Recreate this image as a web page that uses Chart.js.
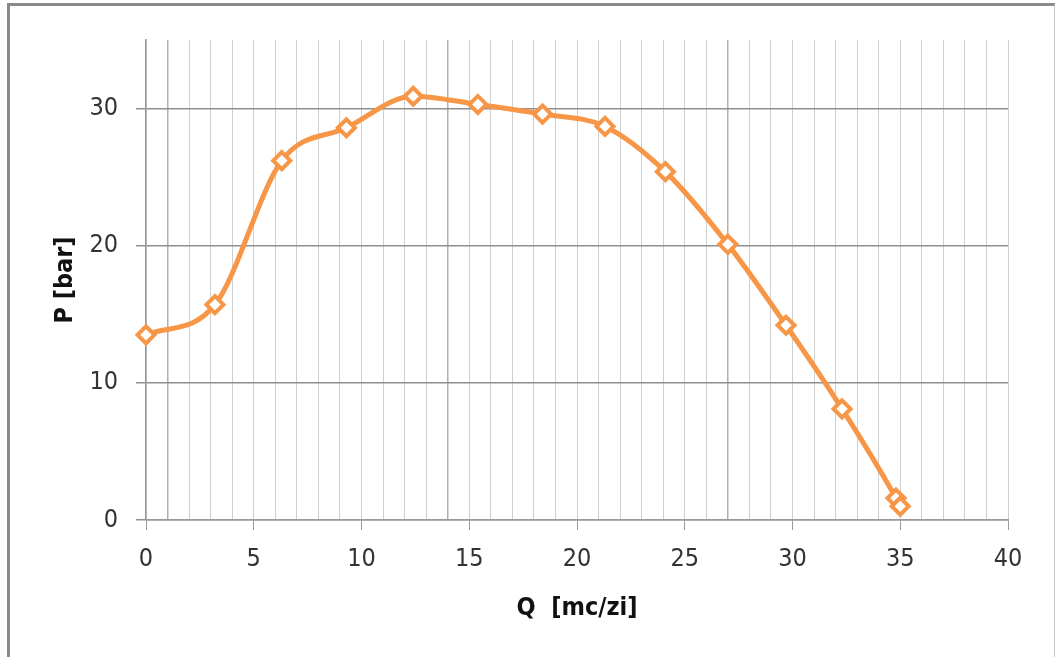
<!DOCTYPE html>
<html>
<head>
<meta charset="utf-8">
<script src="https://cdn.jsdelivr.net/npm/chart.js@4"></script>
<style>
  body { margin: 0; background: #fff; }
  #wrap { position: relative; width: 1055px; height: 657px; }
  #frame {
    position: absolute; left: 7px; top: 3px; width: 1044px; height: 660px;
    border-left: 3px solid #8a8a8a; border-top: 3px solid #8a8a8a;
    border-right: 1px solid #c8c8c8; pointer-events: none;
  }
</style>
</head>
<body>
<div id="wrap">
  <canvas id="chart" width="1055" height="657"></canvas>
  <div id="frame"></div>
</div>
<script>
const flow = [0, 3.2, 6.3, 9.3, 12.4, 15.4, 18.4, 21.3, 24.1, 27.0, 29.7, 32.3, 34.8, 35.0]
const pressure = [13.5, 15.7, 26.2, 28.6, 30.9, 30.3, 29.6, 28.7, 25.4, 20.1, 14.2, 8.1, 1.6, 1.0]
const xTicks = [0, 5, 10, 15, 20, 25, 30, 35, 40]
const yTicks = [0, 10, 20, 30]

const tickFont = { family: '"Liberation Sans Narrow", "DejaVu Sans Condensed", sans-serif', size: 25 }
const titleFont = { family: '"Liberation Sans Narrow", "DejaVu Sans Condensed", sans-serif', size: 25, weight: 'bold' }
const orange = '#f79646'

const points = flow.map((q, i) => ({ x: q, y: pressure[i] }))

new Chart(document.getElementById('chart'), {
  type: 'line',
  data: {
    datasets: [{
      data: points,
      borderColor: orange,
      borderWidth: 5,
      cubicInterpolationMode: 'monotone',
      pointStyle: 'rectRot',
      pointRadius: 8.5,
      pointBorderWidth: 4,
      pointBorderColor: orange,
      pointBackgroundColor: '#fff',
      clip: false
    }]
  },
  options: {
    responsive: false,
    animation: false,
    events: [],
    layout: { padding: { top: 40, right: 47, left: 0, bottom: 0 } },
    plugins: { legend: { display: false }, tooltip: { enabled: false } },
    scales: {
      x: {
        type: 'linear',
        min: 0,
        max: 40,
        afterFit: s => { s.height = 137 },
        ticks: {
          stepSize: 1,
          autoSkip: false,
          maxRotation: 0,
          padding: 14,
          color: '#333',
          font: tickFont,
          callback: v => xTicks.includes(v) ? String(v) : ''
        },
        grid: {
          color: c => [1, 14, 27].includes(c.tick.value) ? '#b0b0b0' : '#cfcfcf',
          lineWidth: c => [1, 14, 27].includes(c.tick.value) ? 1.5 : 1,
          tickLength: 10,
          tickColor: c => xTicks.includes(c.tick.value) ? '#999' : 'rgba(0,0,0,0)'
        },
        border: { color: '#999', width: 1.5 },
        title: {
          display: true,
          text: 'Q  [mc/zi]',
          color: '#111',
          font: titleFont,
          padding: { top: 0, bottom: 34 }
        }
      },
      y: {
        type: 'linear',
        min: 0,
        max: 35,
        afterFit: s => { s.width = 146 },
        afterBuildTicks: s => { s.ticks = s.ticks.filter(t => yTicks.includes(t.value)) },
        ticks: {
          stepSize: 10,
          padding: 18,
          color: '#333',
          font: tickFont
        },
        grid: {
          color: '#8f8f8f',
          lineWidth: 1.5,
          tickLength: 10,
          tickColor: '#8f8f8f'
        },
        border: { color: '#999', width: 1.5 },
        title: {
          display: true,
          text: 'P [bar]',
          color: '#111',
          font: titleFont,
          padding: { top: 50, bottom: 0 }
        }
      }
    }
  }
})
</script>
</body>
</html>
